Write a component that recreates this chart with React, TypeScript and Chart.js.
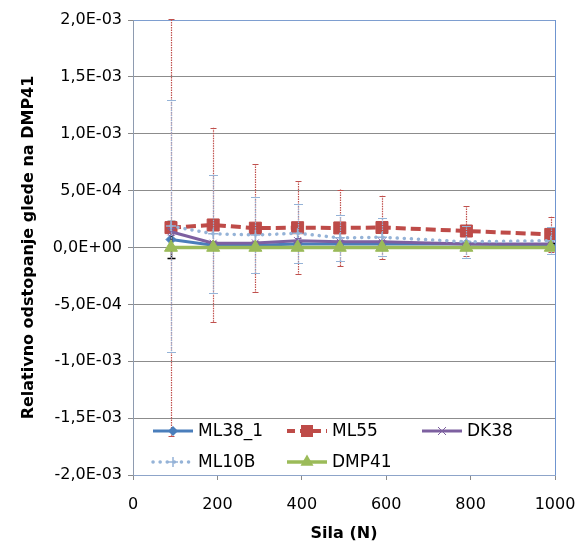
import React, { useEffect, useRef } from "react";
import { Chart, registerables } from "chart.js";

Chart.register(...registerables);

// ---------- data ----------
const forces = [90, 190, 290, 390, 490, 590, 790, 990];
const ml38Values = [7e-5, 2e-5, 2e-5, 3e-5, 3e-5, 3e-5, 3e-5, 2e-5];
const ml38Errors = [1.63e-4, 3e-5, 3e-5, 3e-5, 2.5e-5, 2.5e-5, 2e-5, 2e-5];
const ml55Values = [1.75e-4, 1.98e-4, 1.7e-4, 1.74e-4, 1.72e-4, 1.76e-4, 1.45e-4, 1.15e-4];
const ml55Errors = [1.83e-3, 8.55e-4, 5.65e-4, 4.1e-4, 3.37e-4, 2.8e-4, 2.2e-4, 1.55e-4];
const dk38Values = [1.38e-4, 3.7e-5, 4e-5, 6e-5, 5e-5, 5e-5, 3e-5, 3e-5];
const dk38Errors = [3e-5, 2e-5, 2e-5, 2e-5, 2e-5, 2e-5, 2e-5, 2e-5];
const ml10bValues = [1.88e-4, 1.2e-4, 1.1e-4, 1.25e-4, 8.5e-5, 9e-5, 5e-5, 6e-5];
const ml10bErrors = [1.11e-3, 5.2e-4, 3.35e-4, 2.58e-4, 2.05e-4, 1.65e-4, 1.4e-4, 1.2e-4];
const dmp41Values = [0, 0, 0, 0, 0, 0, 0, 0];
const seriesNames = ["ML38_1", "ML55", "DK38", "ML10B", "DMP41"];

const xMin = 0;
const xMax = 1000;
const xStep = 200;
const yMin = -2e-3;
const yMax = 2e-3;
const yStep = 5e-4;

const yTitle = "Relativno odstopanje glede na DMP41";
const xTitle = "Sila (N)";

// ---------- styles ----------
const FONT = "'DejaVu Sans', sans-serif";

type Style = {
  color: string;
  marker: string;
  markerColor: string;
  radius: number;
  width: number;
  dash: number[];
  cap: CanvasLineCap;
  errColor: string;
  errDash: number[];
  errCap: number;
  errWidth: number;
};

const styles: Style[] = [
  { color: "#4A7EBB", marker: "rectRot", markerColor: "#4A7EBB", radius: 5, width: 3, dash: [], cap: "butt", errColor: "#000000", errDash: [], errCap: 4, errWidth: 1.5 },
  { color: "#BE4B48", marker: "rect", markerColor: "#BE4B48", radius: 8.5, width: 4, dash: [10, 5], cap: "butt", errColor: "#C0504D", errDash: [1.5, 1], errCap: 3, errWidth: 1.2 },
  { color: "#7D60A0", marker: "crossRot", markerColor: "#7D60A0", radius: 5, width: 3, dash: [], cap: "butt", errColor: "#7D60A0", errDash: [], errCap: 3, errWidth: 1 },
  { color: "#95B3D7", marker: "cross", markerColor: "#95B3D7", radius: 5, width: 3.5, dash: [0.1, 7], cap: "round", errColor: "#95B3D7", errDash: [1.5, 1], errCap: 4.5, errWidth: 1.2 },
  { color: "#9BBB59", marker: "triangle", markerColor: "#9BBB59", radius: 7.5, width: 3.5, dash: [], cap: "butt", errColor: "#9BBB59", errDash: [], errCap: 0, errWidth: 0 },
];

function sciComma(v: number): string {
  if (Math.abs(v) < 1e-12) v = 0;
  const [m, e] = v.toExponential(1).split("e");
  const n = parseInt(e, 10);
  const sign = n < 0 ? "-" : "+";
  return m.replace(".", ",") + "E" + sign + String(Math.abs(n)).padStart(2, "0");
}

function drawMarker(ctx: CanvasRenderingContext2D, type: string, x: number, y: number, r: number, color: string) {
  ctx.save();
  ctx.setLineDash([]);
  ctx.fillStyle = color;
  ctx.strokeStyle = color;
  ctx.beginPath();
  if (type === "rectRot") {
    ctx.moveTo(x, y - r);
    ctx.lineTo(x + r, y);
    ctx.lineTo(x, y + r);
    ctx.lineTo(x - r, y);
    ctx.closePath();
    ctx.fill();
  } else if (type === "rect") {
    const s = r * Math.SQRT1_2;
    ctx.rect(x - s, y - s, 2 * s, 2 * s);
    ctx.fill();
  } else if (type === "triangle") {
    ctx.moveTo(x, y - r);
    ctx.lineTo(x + r * 0.866, y + r * 0.5);
    ctx.lineTo(x - r * 0.866, y + r * 0.5);
    ctx.closePath();
    ctx.fill();
  } else if (type === "crossRot") {
    ctx.lineWidth = 1;
    const d = r * 0.8;
    ctx.moveTo(x - d, y - d);
    ctx.lineTo(x + d, y + d);
    ctx.moveTo(x + d, y - d);
    ctx.lineTo(x - d, y + d);
    ctx.stroke();
  } else if (type === "cross") {
    ctx.lineWidth = 1.5;
    ctx.moveTo(x - r, y);
    ctx.lineTo(x + r, y);
    ctx.moveTo(x, y - r);
    ctx.lineTo(x, y + r);
    ctx.stroke();
  }
  ctx.restore();
}

const errorBarPlugin = {
  id: "errorBars",
  afterDatasetDraw(chart: any, args: any) {
    const ds = chart.data.datasets[args.index];
    const errs: number[] | undefined = ds.errors;
    const st: Style | undefined = ds.styleRef;
    if (!errs || !st || st.errWidth <= 0) return;
    const ctx: CanvasRenderingContext2D = chart.ctx;
    const ys = chart.scales.y;
    const area = chart.chartArea;
    ctx.save();
    ctx.beginPath();
    ctx.rect(area.left, area.top - 1, area.right - area.left, area.bottom - area.top + 2);
    ctx.clip();
    ctx.strokeStyle = st.errColor;
    ctx.lineWidth = st.errWidth;
    args.meta.data.forEach((pt: any, i: number) => {
      const v = ds.data[i].y;
      const e = errs[i];
      const yt = ys.getPixelForValue(v + e);
      const yb = ys.getPixelForValue(v - e);
      const x = Math.round(pt.x) + 0.5;
      ctx.setLineDash(st.errDash);
      ctx.beginPath();
      ctx.moveTo(x, yt);
      ctx.lineTo(x, yb);
      ctx.stroke();
      ctx.setLineDash([]);
      ctx.beginPath();
      ctx.moveTo(x - st.errCap, Math.round(yt) + 0.5);
      ctx.lineTo(x + st.errCap, Math.round(yt) + 0.5);
      ctx.moveTo(x - st.errCap, Math.round(yb) + 0.5);
      ctx.lineTo(x + st.errCap, Math.round(yb) + 0.5);
      ctx.stroke();
    });
    ctx.restore();
  },
};

const legendPlugin = {
  id: "customLegend",
  afterDraw(chart: any) {
    const ctx: CanvasRenderingContext2D = chart.ctx;
    const a = chart.chartArea;
    const cols = [a.left + 20, a.left + 154, a.left + 289];
    const rows = [a.bottom - 44, a.bottom - 13];
    const sampleLen = 40;
    seriesNames.forEach((name, i) => {
      const st = styles[i];
      const cx = cols[i % 3];
      const cy = rows[Math.floor(i / 3)];
      ctx.save();
      ctx.strokeStyle = st.color;
      ctx.lineWidth = st.width;
      ctx.lineCap = st.cap;
      ctx.setLineDash(st.dash.length ? (st.marker === "rect" ? [8, 5] : st.dash) : []);
      ctx.beginPath();
      ctx.moveTo(cx, cy);
      ctx.lineTo(cx + sampleLen, cy);
      ctx.stroke();
      ctx.restore();
      drawMarker(ctx, st.marker, cx + sampleLen / 2, cy, st.radius, st.markerColor);
      ctx.save();
      ctx.fillStyle = "#000";
      ctx.font = `17px ${FONT}`;
      ctx.textAlign = "left";
      ctx.textBaseline = "middle";
      ctx.fillText(name, cx + sampleLen + 5, cy + 1);
      ctx.restore();
    });
  },
};

const seriesValues = [ml38Values, ml55Values, dk38Values, ml10bValues, dmp41Values];
const seriesErrors: (number[] | undefined)[] = [ml38Errors, ml55Errors, dk38Errors, ml10bErrors, undefined];

export default function App() {
  const ref = useRef<HTMLCanvasElement>(null);

  useEffect(() => {
    document.body.style.margin = "0";
    const canvas = ref.current;
    if (!canvas) return;

    const datasets = seriesNames.map((name, i) => {
      const st = styles[i];
      return {
        label: name,
        data: forces.map((f, j) => ({ x: f, y: seriesValues[i][j] })),
        errors: seriesErrors[i],
        styleRef: st,
        borderColor: st.color,
        backgroundColor: st.markerColor,
        borderWidth: st.width,
        borderDash: st.dash,
        borderCapStyle: st.cap,
        pointStyle: st.marker,
        pointRadius: st.radius,
        pointBorderColor: st.markerColor,
        pointBackgroundColor: st.markerColor,
        pointBorderWidth: st.marker === "cross" ? 1.5 : 1,
        tension: 0,
        fill: false,
        order: 5 - i,
      };
    });

    const chart = new Chart(canvas, {
      type: "line",
      data: { datasets: datasets as any },
      options: {
        responsive: false,
        animation: false,
        devicePixelRatio: 1,
        layout: { padding: { left: 0, right: 24, top: 20, bottom: 0 } },
        plugins: {
          legend: { display: false },
          tooltip: { enabled: false },
        },
        scales: {
          x: {
            type: "linear",
            min: xMin,
            max: xMax,
            ticks: {
              stepSize: xStep,
              color: "#000",
              font: { family: FONT, size: 16 },
              padding: 15,
              maxRotation: 0,
              callback: (v: any) => String(v),
            },
            grid: {
              color: (c: any) => (c.tick && c.tick.value === xMax ? "#6F95D0" : "rgba(0,0,0,0)"),
              tickColor: "#8A8A8A",
              tickLength: 5,
              lineWidth: 1,
            },
            border: { color: "#8DA4C9", width: 1 },
            title: {
              display: true,
              text: xTitle,
              color: "#000",
              font: { family: FONT, size: 16, weight: "bold" },
              padding: { top: 0, bottom: 0 },
            },
            afterFit: (s: any) => {
              s.height = 68;
              s.paddingLeft = 0;
              s.paddingRight = 0;
            },
          },
          y: {
            type: "linear",
            min: yMin,
            max: yMax,
            ticks: {
              stepSize: yStep,
              color: "#000",
              font: { family: FONT, size: 16 },
              padding: 6,
              callback: (v: any) => sciComma(Number(v)),
            },
            grid: {
              color: (c: any) => (c.tick && Math.abs(c.tick.value - yMax) < 1e-12 ? "#7E9ED0" : "#8C8C8C"),
              tickColor: "#8A8A8A",
              tickLength: 5,
              lineWidth: 1,
            },
            border: { color: "#8E9BB0", width: 1 },
            title: {
              display: true,
              text: yTitle,
              color: "#000",
              font: { family: FONT, size: 16, weight: "bold" },
              padding: { top: 19, bottom: 0 },
            },
            afterFit: (s: any) => {
              s.width = 133;
              s.paddingTop = 0;
              s.paddingBottom = 0;
            },
          },
        },
      },
      plugins: [errorBarPlugin, legendPlugin],
    });

    return () => chart.destroy();
  }, []);

  return (
    <div style={{ width: 579, height: 543 }}>
      <canvas ref={ref} width={579} height={543} />
    </div>
  );
}
